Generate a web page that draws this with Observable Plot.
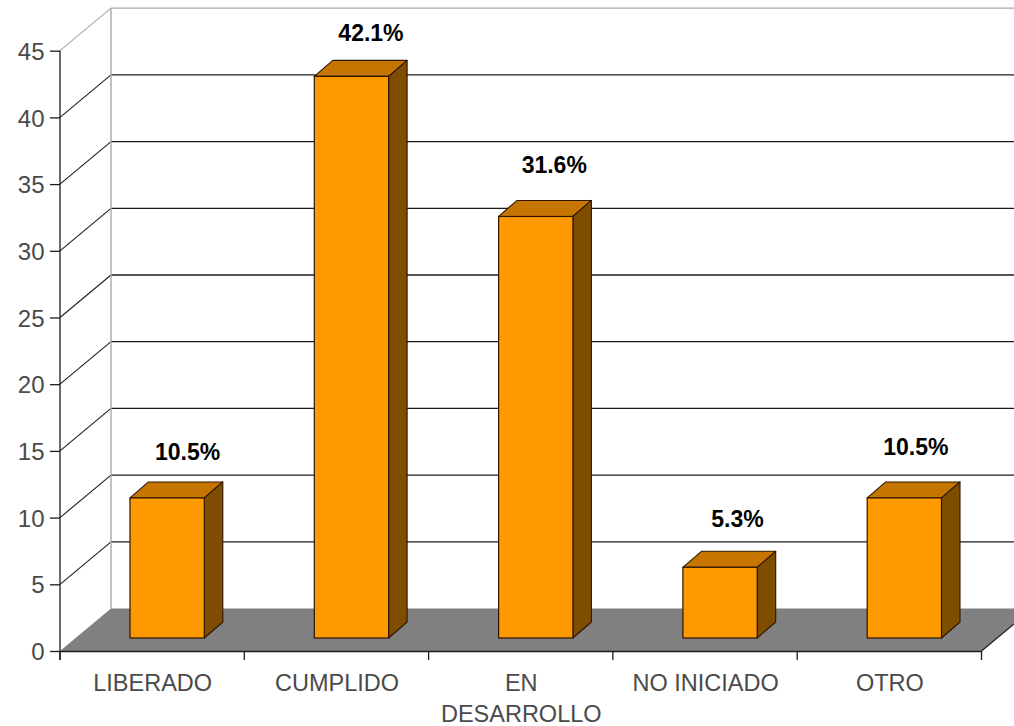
<!DOCTYPE html>
<html>
<head>
<meta charset="utf-8">
<script src="https://cdn.jsdelivr.net/npm/d3@7"></script>
<script src="https://cdn.jsdelivr.net/npm/@observablehq/plot@0.6"></script>
<style>
  html, body { margin: 0; padding: 0; background: #fff; overflow: hidden; }
  svg { display: block; }
</style>
</head>
<body>
<div id="chart"></div>
<script>
const categories = ["LIBERADO", "CUMPLIDO", "EN\nDESARROLLO", "NO INICIADO", "OTRO"];
const values = [10.5, 42.1, 31.6, 5.3, 10.5];
const yTicks = [0, 5, 10, 15, 20, 25, 30, 35, 40, 45];

const rows = categories.map((category, i) => ({category, value: values[i]}));

// Oblique projection of the chart box and of the bars inside it.
const wallDx = 51, wallDy = -42.5;
const barDx = 15, barDy = -13;
const depthDx = 18.5, depthDy = -16;
const barInset = 55;
// Fine adjustment of each hand-placed percentage label: [dx, dy] from the bar top.
const labelNudge = [[35, -59], [34, -56], [33, -64], [32, -61], [26, -64]];

const font = "'Liberation Sans', Arial, sans-serif";

function poly(g, pts, fill, stroke, sw) {
  g.append("path").attr("d", "M" + pts.map(p => p.join(",")).join("L") + "Z")
    .attr("fill", fill).attr("stroke", stroke || "none").attr("stroke-width", sw || 0)
    .attr("stroke-linejoin", "round");
}

function room(index, {x, y}) {
  const g = d3.create("svg:g");
  const step = x(categories[1]) - x(categories[0]);
  const x0 = x(categories[0]);
  const x1 = x(categories[categories.length - 1]) + step;
  const y0 = y(0);
  poly(g, [[x0, y0], [x0 + wallDx, y0 + wallDy], [x1 + wallDx, y0 + wallDy], [x1, y0]], "#808080");
  for (const t of yTicks.slice(1)) {
    const c = t === 45 ? "#a8a8a8" : "#1c1c1c";
    g.append("line").attr("x1", x0).attr("y1", y(t)).attr("x2", x0 + wallDx).attr("y2", y(t) + wallDy)
      .attr("stroke", c).attr("stroke-width", 1.1);
    g.append("line").attr("x1", x0 + wallDx).attr("y1", y(t) + wallDy).attr("x2", x1 + wallDx).attr("y2", y(t) + wallDy)
      .attr("stroke", c).attr("stroke-width", 1.3);
  }
  g.append("line").attr("x1", x0 + wallDx).attr("y1", y(45) + wallDy).attr("x2", x0 + wallDx).attr("y2", y0 + wallDy)
    .attr("stroke", "#a8a8a8").attr("stroke-width", 1.4);
  g.append("line").attr("x1", x1).attr("y1", y0).attr("x2", x1 + wallDx).attr("y2", y0 + wallDy)
    .attr("stroke", "#1c1c1c").attr("stroke-width", 1.1);
  g.append("line").attr("x1", x0).attr("y1", y(45)).attr("x2", x0).attr("y2", y0 + 9)
    .attr("stroke", "#1c1c1c").attr("stroke-width", 1.3);
  for (let i = 0; i <= categories.length; ++i) {
    g.append("line").attr("x1", x0 + i * step).attr("y1", y0).attr("x2", x0 + i * step).attr("y2", y0 + 9)
      .attr("stroke", "#1c1c1c").attr("stroke-width", 1.3);
  }
  return g.node();
}

function barDepth(index, {x, y}) {
  const g = d3.create("svg:g");
  const step = x(categories[1]) - x(categories[0]);
  for (const d of rows) {
    const L = x(d.category) + barInset + barDx;
    const R = x(d.category) + step - barInset + barDx;
    const T = y(d.value) + barDy;
    const B = y(0) + barDy;
    poly(g, [[L, T], [L + depthDx, T + depthDy], [R + depthDx, T + depthDy], [R, T]], "#c67600", "#2e1500", 1.1);
    poly(g, [[R, T], [R + depthDx, T + depthDy], [R + depthDx, B + depthDy], [R, B]], "#7f4d00", "#2e1500", 1.1);
  }
  return g.node();
}

const labelMarks = rows.map((d, i) => Plot.text([d], {
  x: "category",
  y: "value",
  text: r => r.value.toFixed(1) + "%",
  dx: labelNudge[i][0],
  dy: labelNudge[i][1],
  fontSize: 23,
  fontWeight: "bold",
  fill: "#000"
}));

const chart = Plot.plot({
  width: 1014,
  height: 726,
  marginLeft: 60,
  marginRight: 32.5,
  marginTop: 50.7,
  marginBottom: 75,
  style: {background: "#fff", fontFamily: font},
  x: {domain: categories, padding: 0, round: false, label: null},
  y: {domain: [0, 45], label: null},
  marks: [
    room,
    Plot.axisY({
      ticks: yTicks,
      tickSize: 10,
      text: null,
      stroke: "#1c1c1c",
      strokeWidth: 1.3,
      label: null
    }),
    Plot.axisY({
      ticks: yTicks,
      tickSize: 0,
      tickPadding: 16,
      dy: 1,
      fontSize: 24,
      fill: "#4a4a4a",
      label: null
    }),
    Plot.axisX({
      tickSize: 0,
      tickPadding: 17,
      fontSize: 23.5,
      fill: "#4a4a4a",
      lineHeight: 1.32,
      label: null
    }),
    barDepth,
    Plot.barY(rows, {
      x: "category",
      y: "value",
      dx: barDx,
      dy: barDy,
      insetLeft: barInset,
      insetRight: barInset,
      fill: "#ff9900",
      stroke: "#2e1500",
      strokeWidth: 1.2
    }),
    ...labelMarks,
    Plot.ruleY([0], {stroke: "#1c1c1c", strokeWidth: 1.3})
  ]
});
document.getElementById("chart").append(chart);
</script>
</body>
</html>
